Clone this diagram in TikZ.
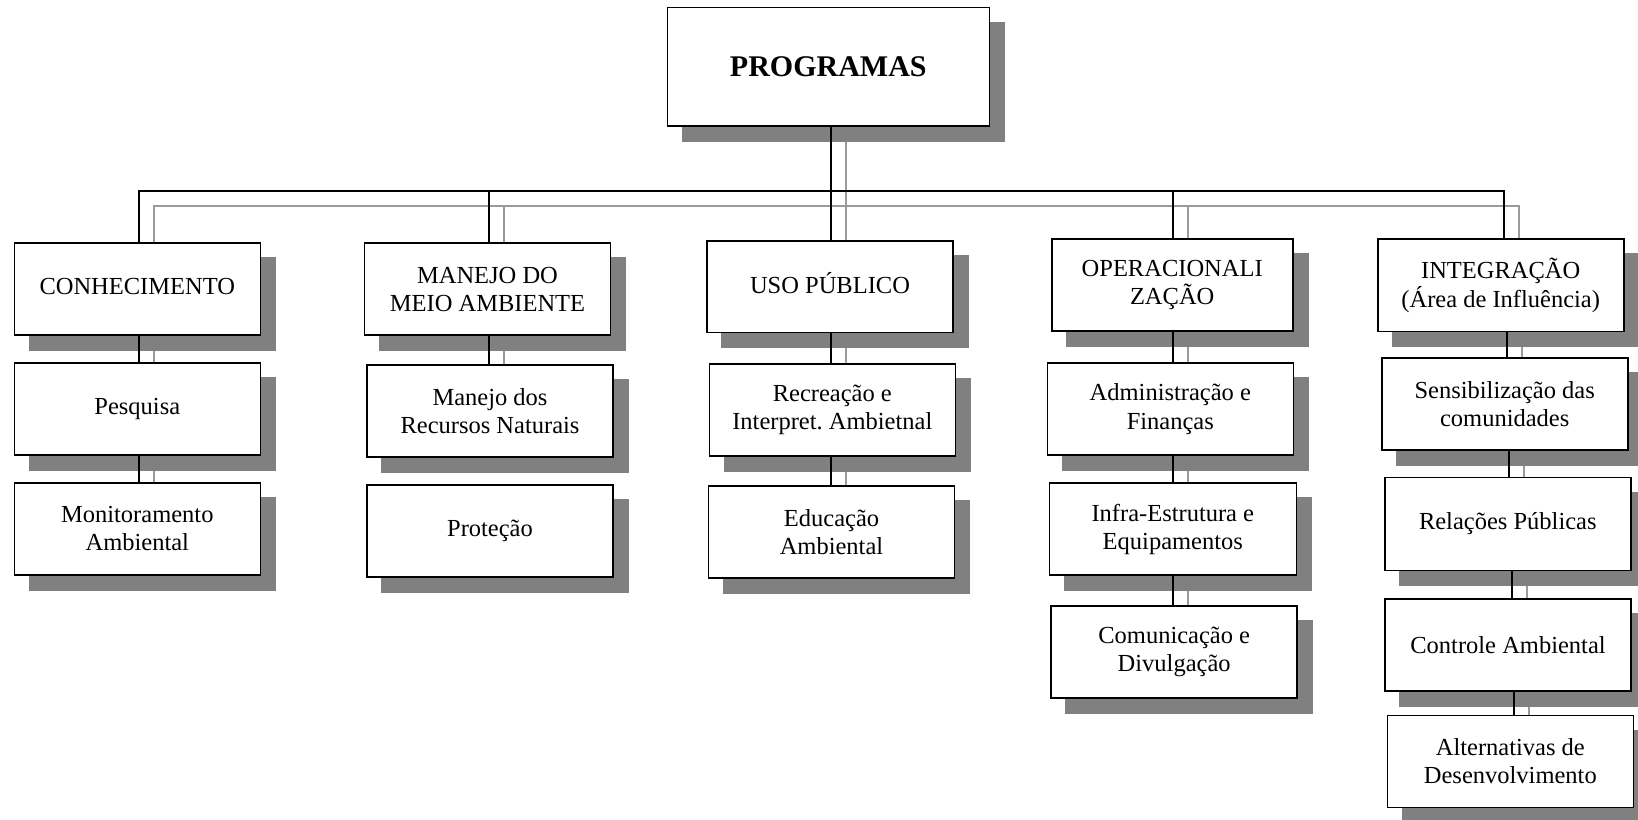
\documentclass[tikz,border=0pt]{standalone}
\usepackage{fontspec}
\setmainfont{Liberation Serif}
\usetikzlibrary{calc}
\pgfdeclarelayer{lshadow}
\pgfdeclarelayer{bshadow}
\pgfdeclarelayer{lines}
\pgfsetlayers{lshadow,bshadow,lines,main}
\definecolor{shadowc}{HTML}{808080}
\definecolor{lineshc}{HTML}{9A9A9A}
\frenchspacing
\newcommand\dropsh[1]{\fill[shadowc] ($(#1.south west)+(15,15)$) rectangle ($(#1.north east)+(15,15)$);}
\newcommand\conns[1]{%
  \draw[#1] (c1.north -| xa) -- (xa |- bus) -- (xe0 |- bus) -- (c5.north -| xe0);
  \draw[#1] (prog.south -| xc) -- (c3.north -| xc);
  \draw[#1] (xb |- bus) -- (c2.north -| xb);
  \draw[#1] (xd |- bus) -- (c4.north -| xd);
  \draw[#1] (c1.south -| xa) -- (c1a.north -| xa);
  \draw[#1] (c1a.south -| xa) -- (c1b.north -| xa);
  \draw[#1] (c2.south -| xb) -- (c2a.north -| xb);
  \draw[#1] (c3.south -| xc) -- (c3a.north -| xc);
  \draw[#1] (c3a.south -| xc) -- (c3b.north -| xc);
  \draw[#1] (c4.south -| xd) -- (c4a.north -| xd);
  \draw[#1] (c4a.south -| xd) -- (c4b.north -| xd);
  \draw[#1] (c4b.south -| xd) -- (c4c.north -| xd);
  \draw[#1] (c5.south -| xe1) -- (c5a.north -| xe1);
  \draw[#1] (c5a.south -| xe2) -- (c5b.north -| xe2);
  \draw[#1] (c5b.south -| xe3) -- (c5c.north -| xe3);
  \draw[#1] (c5c.south -| xe4) -- (c5d.north -| xe4);
}
\begin{document}
\begin{tikzpicture}[x=1pt,y=-1pt,
  box/.style={draw=black, line width=1.6pt, fill=white, minimum width=246pt,
    minimum height=92pt, inner sep=0pt, align=center,
    font=\fontsize{24.5}{28.2}\selectfont},
  conn/.style={draw=black, line width=1.8pt},
  connsh/.style={draw=lineshc, line width=1.8pt}]
\useasboundingbox (0,0) rectangle (1638,819);

\node[box, minimum width=322pt, minimum height=118.7pt, font=\fontsize{30}{34}\selectfont\bfseries] (prog) at (828.3,66.7) {PROGRAMAS};

\node[box] (c1) at (137.3,288.8) {\raisebox{4pt}{CONHECIMENTO}};
\node[box] (c1a) at (137.3,408.7) {Pesquisa};
\node[box] (c1b) at (137.3,528.8) {Monitoramento\\Ambiental};

\node[box] (c2) at (487.5,289.2) {MANEJO DO\\MEIO AMBIENTE};
\node[box] (c2a) at (490,410.8) {Manejo dos\\Recursos Naturais};
\node[box] (c2b) at (490,530.8) {Proteção};

\node[box, minimum height=91.3pt] (c3) at (830,286.7) {\raisebox{8pt}{USO PÚBLICO}};
\node[box] (c3a) at (832.3,410.2) {Recreação e\\Interpret. Ambietnal};
\node[box] (c3b) at (831.5,531.8) {Educação\\Ambiental};

\node[box, minimum width=241pt] (c4) at (1172.2,285.2) {OPERACIONALI\\ZAÇÃO};
\node[box] (c4a) at (1170.3,409.2) {Administração e\\Finanças};
\node[box, minimum width=247pt] (c4b) at (1172.8,529.2) {Infra-Estrutura e\\Equipamentos};
\node[box] (c4c) at (1174.2,651.8) {Comunicação e\\Divulgação};

\node[box, minimum height=92.5pt] (c5) at (1500.7,285.3) {INTEGRAÇÃO\\(Área de Influência)};
\node[box] (c5a) at (1504.7,404.2) {Sensibilização das\\comunidades};
\node[box, minimum height=92.7pt] (c5b) at (1507.8,524) {Relações Públicas};
\node[box] (c5c) at (1508,645.2) {Controle Ambiental};
\node[box] (c5d) at (1510.3,761.5) {Alternativas de\\Desenvolvimento};

\coordinate (bus) at (0,191);
\coordinate (xa) at (139.3,0);
\coordinate (xb) at (489.3,0);
\coordinate (xc) at (831,0);
\coordinate (xd) at (1173.3,0);
\coordinate (xe0) at (1504.3,0);
\coordinate (xe1) at (1506.7,0);
\coordinate (xe2) at (1509.3,0);
\coordinate (xe3) at (1511.7,0);
\coordinate (xe4) at (1514,0);

\begin{pgfonlayer}{bshadow}
\foreach \n in {prog,c1,c1a,c1b,c2,c2a,c2b,c3,c3a,c3b,c4,c4a,c4b,c4c,c5,c5a,c5b,c5c,c5d}{\dropsh{\n}}
\end{pgfonlayer}
\begin{pgfonlayer}{lshadow}
\begin{scope}[transform canvas={xshift=15pt,yshift=-15pt}]
\conns{connsh}
\end{scope}
\end{pgfonlayer}
\begin{pgfonlayer}{lines}
\conns{conn}
\end{pgfonlayer}
\end{tikzpicture}
\end{document}
